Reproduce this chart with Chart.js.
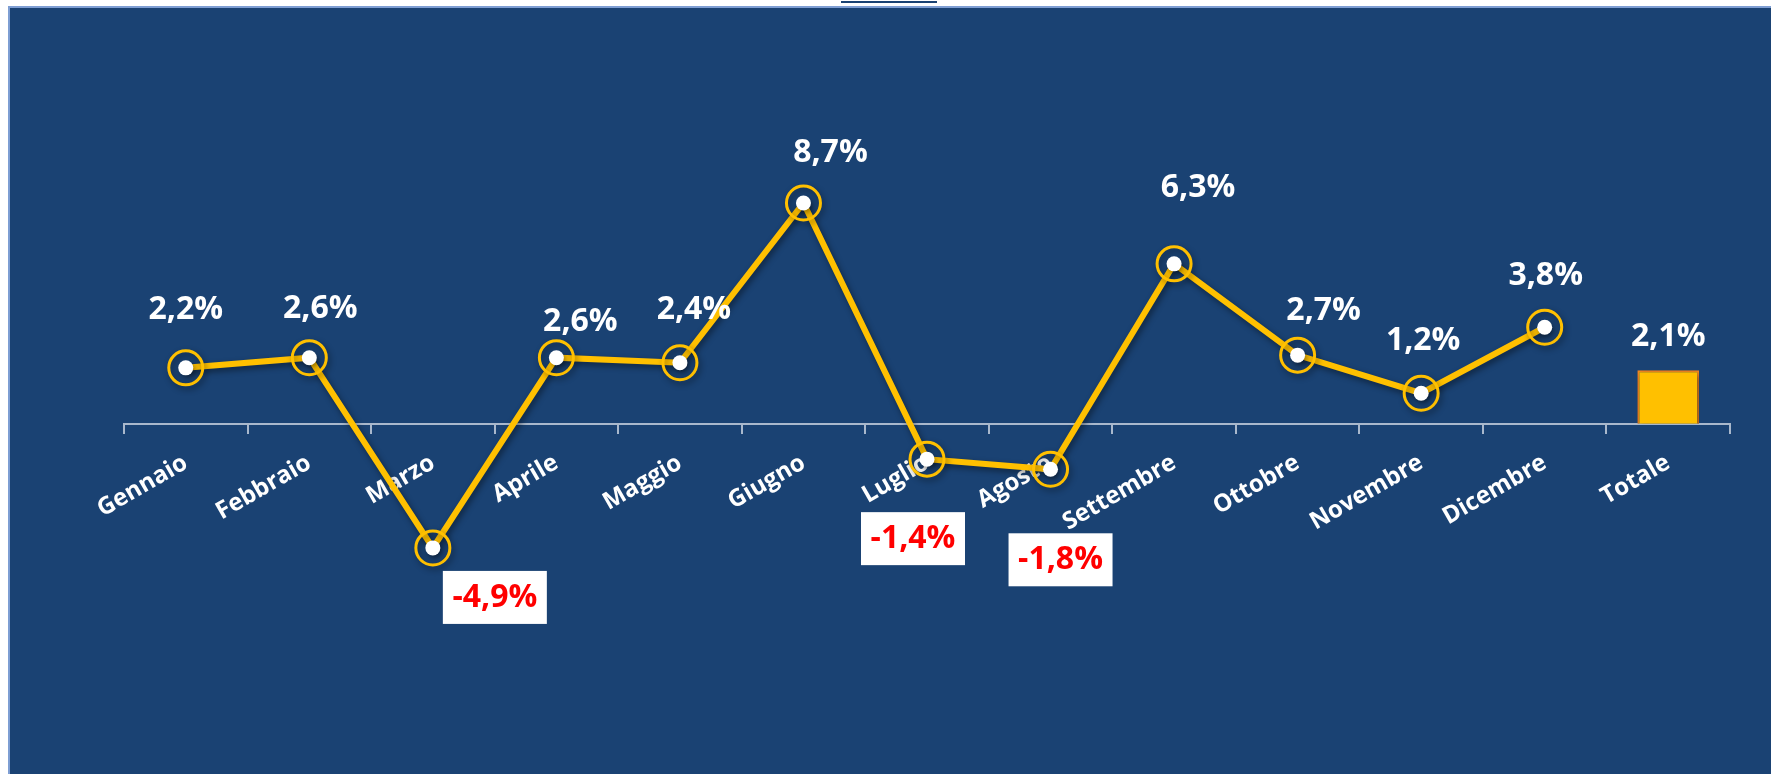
<!DOCTYPE html>
<html lang="it">
<head>
  <meta charset="UTF-8" />
  <title>Variazione mensile</title>
  <script src="https://cdn.jsdelivr.net/npm/chart.js"></script>
  <style>
    html, body { margin:0; padding:0; background:#fff; width:1771px; height:774px; overflow:hidden; }
    .panel { position:absolute; left:8px; top:6px; right:0; bottom:0; background:#1a4273;
             border-top:2px solid #7e9ed3; border-left:2px solid #7e9ed3; }
    .cut { position:absolute; left:841px; top:1px; width:96px; height:2px; background:#1a4273; }
    .wrap { position:absolute; left:0; top:0; width:1771px; height:774px; }
  </style>
</head>
<body>
  <div class="cut"></div>
  <div class="panel"></div>
  <div class="wrap"><canvas id="chart"></canvas></div>
  <script>
    // dati
    const months = ['Gennaio','Febbraio','Marzo','Aprile','Maggio','Giugno','Luglio','Agosto','Settembre','Ottobre','Novembre','Dicembre'];
    const values = [2.2, 2.6, -4.9, 2.6, 2.4, 8.7, -1.4, -1.8, 6.3, 2.7, 1.2, 3.8];
    const totalLabel = 'Totale';
    const totalValue = 2.1;

    const labels = months.concat([totalLabel]);
    const lineData = values.concat([null]);
    const barData = months.map(() => null).concat([totalValue]);

    // label placement (as in the original sheet, moved by hand)
    const labelDx = [0, 11, 62, 24, 14, 27, -14, 10, 24, 26, 2, 1];
    const labelDy = [-59, -50, 49, -37, -54, -51, 79, 90, -77, -45, -53, -52];

    const fmt = v => v.toFixed(1).replace('.', ',') + '%';
    const FONT = "'Open Sans', Arial, sans-serif";

    const shadowPlugin = {
      id: 'shadow',
      beforeDatasetsDraw(chart) {
        const ctx = chart.ctx;
        ctx.save();
        ctx.shadowColor = 'rgba(0,0,0,0.45)';
        ctx.shadowBlur = 6;
        ctx.shadowOffsetX = 2;
        ctx.shadowOffsetY = 3;
      },
      afterDatasetsDraw(chart) { chart.ctx.restore(); }
    };

    const labelPlugin = {
      id: 'valueLabels',
      afterDraw(chart) {
        const ctx = chart.ctx;
        ctx.save();
        ctx.font = 'bold 32px ' + FONT;
        ctx.textAlign = 'center';
        ctx.textBaseline = 'middle';
        const pts = chart.getDatasetMeta(0).data;
        values.forEach((v, i) => {
          const p = pts[i];
          const x = p.x + labelDx[i], y = p.y + labelDy[i];
          if (v < 0) {
            ctx.fillStyle = '#ffffff';
            ctx.fillRect(x - 52, y - 26, 104, 53);
            ctx.fillStyle = '#ff0000';
          } else {
            ctx.fillStyle = '#ffffff';
          }
          ctx.fillText(fmt(v), x, y + 1);
        });
        const bar = chart.getDatasetMeta(2).data[months.length];
        ctx.fillStyle = '#ffffff';
        ctx.fillText(fmt(totalValue), bar.x, bar.y - 33);
        ctx.restore();
      }
    };

    new Chart(document.getElementById('chart'), {
      data: {
        labels: labels,
        datasets: [
          { type:'line', data: lineData, borderColor:'#ffc000', borderWidth:6, tension:0,
            pointRadius:17, pointBorderWidth:3, pointBorderColor:'#ffc000', pointBackgroundColor:'rgba(0,0,0,0)', order:2 },
          { type:'line', data: lineData, showLine:false,
            pointRadius:7.5, pointBorderWidth:0, pointBackgroundColor:'#ffffff', order:1 },
          { type:'bar', data: barData, backgroundColor:'#ffc000', borderColor:'#f5871f', borderWidth:2,
            barPercentage:0.5, categoryPercentage:1, order:3 }
        ]
      },
      options: {
        responsive:true, maintainAspectRatio:false, animation:false, events:[],
        layout: { padding: { left:124, right:41, top:170, bottom:46 } },
        plugins: { legend:{display:false}, tooltip:{enabled:false} },
        scales: {
          y: { display:false, min:-12, max:10 },
          x: {
            position: { y: 0 },
            offset: true,
            border: { display:true, color:'#a9b8cc', width:2 },
            grid: { offset:true, drawOnChartArea:false, drawTicks:true, tickLength:9, color:'#a9b8cc', lineWidth:2 },
            ticks: { color:'#ffffff', font:{ family:FONT, size:24, weight:'bold' },
                     minRotation:30, maxRotation:30, padding:16, autoSkip:false }
          }
        }
      },
      plugins: [shadowPlugin, labelPlugin]
    });
  </script>
</body>
</html>
